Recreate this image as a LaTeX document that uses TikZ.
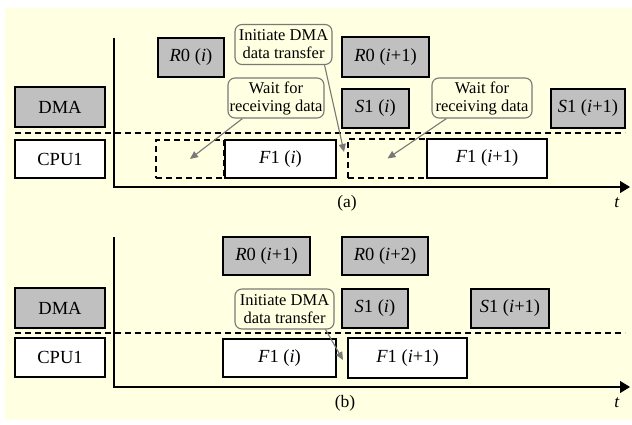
\documentclass[tikz,border=0pt]{standalone}
\usepackage{fontspec}
\setmainfont{Liberation Serif}
\usetikzlibrary{positioning}
\usetikzlibrary{arrows.meta}
\definecolor{bgyellow}{RGB}{255,255,225}
\definecolor{boxgray}{RGB}{192,192,192}
\definecolor{notegray}{RGB}{120,120,120}
\newcommand{\itx}[1]{\textit{#1}}

\tikzset{
  wh/.style 2 args={minimum width=#1pt, minimum height=#2pt},
  box/.style={draw, inner sep=0pt, font=\fontsize{18.5}{20}\selectfont},
  dmabox/.style={box, fill=boxgray, line width=1.2pt},
  cpubox/.style={box, fill=white, line width=1.6pt},
  idlebox/.style={draw, inner sep=0pt, line width=1.6pt, dash pattern=on 6pt off 4pt},
  note/.style={draw=notegray, line width=1.1pt, fill=bgyellow, rounded corners=7pt, align=center,
    inner sep=0pt, font=\fontsize{16.5}{18}\selectfont},
  notearrow/.style={draw=notegray, line width=1.1pt, -{Triangle[length=8pt,width=7pt]}},
  axis/.style={line width=1.1pt, -{Triangle[length=10pt,width=12pt]}},
  lane/.style={line width=1.1pt, dash pattern=on 6pt off 4pt},
  caption/.style={font=\fontsize{17.5}{19}\selectfont}
}

\begin{document}
\begin{tikzpicture}[x=1pt,y=-1pt]
  % Background
  \useasboundingbox (0,0) rectangle (632,425);
  \fill[bgyellow] (5,8) rectangle (632,420);

  % Axes and lanes (a)
  \draw[axis] (114,38) |- (630,187);
  \draw[lane] (15,133) -- (625,133);

  % Axes and lanes (b)
  \draw[axis] (114,237) |- (630,387);
  \draw[lane] (15,333) -- (625,333);

  % (a) without overlap
  \node[dmabox, wh={90}{40}] (dmaA) at (60,107) {DMA};
  \node[cpubox, line width=1.2pt, wh={90}{38}] (cpuA) at (60,159) {CPU1};
  \node[dmabox, wh={66}{39}] (r0A) at (191,57.5) {\itx{R}0 (\itx{i})};
  \node[dmabox, wh={87}{40}] (r0A2) at (385.5,57) {\itx{R}0 (\itx{i}+1)};
  \node[dmabox, wh={67}{39}] (s1A) at (375.5,108.5) {\itx{S}1 (\itx{i})};
  \node[dmabox, wh={74}{39}] (s1A2) at (588,108.5) {\itx{S}1 (\itx{i}+1)};
  \node[idlebox, wh={68}{38}] (idleA) at (190,159) {};
  \node[cpubox, wh={111}{38}] (f1A) at (280.5,159) {\itx{F}1 (\itx{i})};
  \node[idlebox, wh={79}{39}] (idleA2) at (387.5,158.5) {};
  \node[cpubox, wh={120}{39}] (f1A2) at (487,158.5) {\itx{F}1 (\itx{i}+1)};
  \node[note, wh={97}{40}] (initA) at (283.5,44.5) {Initiate DMA\\data transfer};
  \node[note, wh={96}{40}] (waitA) at (276,98) {Wait for\\receiving data};
  \node[note, wh={100}{40}] (waitA2) at (482,98) {Wait for\\receiving data};
  \coordinate (gapA) at (344,152);

  \draw[notearrow] ([xshift=15pt]waitA.south west) -- (idleA.center);
  \draw[notearrow] ([xshift=15pt]waitA2.south west) -- (idleA2.center);
  \draw[notearrow] ([xshift=-8pt]initA.south east) -- (gapA);

  \node[caption] (capA) at (347,203) {(a)};
  \node[caption] (tA) at (617,203) {\itx{t}};

  % (b) with overlap
  \node[dmabox, wh={90}{40}] (dmaB) at (60,308) {DMA};
  \node[cpubox, line width=1.2pt, wh={90}{39}] (cpuB) at (60,357.5) {CPU1};
  \node[dmabox, wh={87}{38}] (r0B) at (266.5,256) {\itx{R}0 (\itx{i}+1)};
  \node[dmabox, wh={86}{38}] (r0B2) at (385,256) {\itx{R}0 (\itx{i}+2)};
  \node[dmabox, wh={66}{39}] (s1B) at (375,308.5) {\itx{S}1 (\itx{i})};
  \node[dmabox, wh={78}{39}] (s1B2) at (510,308.5) {\itx{S}1 (\itx{i}+1)};
  \node[cpubox, wh={113}{38}] (f1B) at (279.5,358) {\itx{F}1 (\itx{i})};
  \node[cpubox, wh={119}{40}] (f1B2) at (407.5,358) {\itx{F}1 (\itx{i}+1)};
  \node[note, wh={99}{40}] (initB) at (284.5,309) {Initiate DMA\\data transfer};
  \coordinate (gapB) at (343,360);

  \draw[notearrow] ([xshift=-9pt]initB.south east) -- (gapB);

  \node[caption] (capB) at (345,403) {(b)};
  \node[caption] (tB) at (617,403) {\itx{t}};
\end{tikzpicture}
\end{document}
